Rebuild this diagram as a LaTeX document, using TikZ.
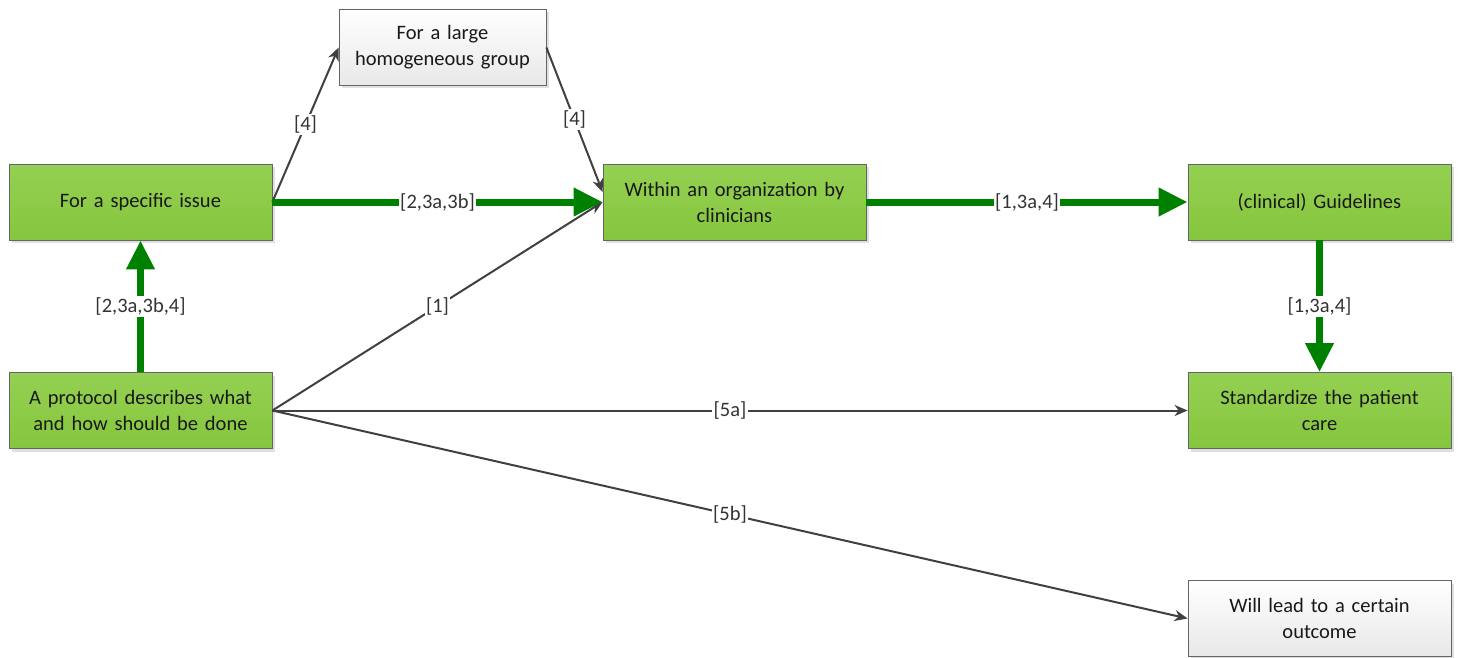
\documentclass[tikz,border=0pt]{standalone}
\usepackage{fontspec}
\setmainfont{Carlito}
\usetikzlibrary{arrows.meta,calc}
\definecolor{gtop}{RGB}{148,208,82}
\definecolor{gbot}{RGB}{134,198,62}
\definecolor{gline}{RGB}{0,128,0}
\definecolor{darkline}{RGB}{64,64,64}
\definecolor{boxborder}{RGB}{100,100,100}
\definecolor{txt}{RGB}{25,25,25}
\tikzset{
  every node/.style={font=\fontsize{20.5}{26}\selectfont, text=txt},
  base/.style={draw=boxborder, line width=0.8pt, minimum width=263pt, minimum height=76pt, text width=250pt, align=center, inner sep=0pt},
  greenbox/.style={base, top color=gtop, bottom color=gbot},
  whitebox/.style={base, top color=white, bottom color=black!9},
  shadowbox/.style={fill=black!12, draw=none, minimum width=263pt, minimum height=76pt, inner sep=0pt},
  thick green/.style={draw=gline, line width=7pt, -{Triangle[length=29pt,width=27pt]}},
  thin gray/.style={draw=darkline, line width=2pt, -{Stealth[length=13pt,width=11pt,inset=4pt]}},
  lab/.style={fill=white, inner sep=1.5pt, text=black!80},
}
\begin{document}
\begin{tikzpicture}[x=1pt,y=-1pt]
\useasboundingbox (0,0) rectangle (1459,658);
% shadows
\node[shadowbox] at (143.5,205) {};
\node[shadowbox] at (143.5,413.5) {};
\node[shadowbox, minimum width=207pt] at (445.5,50.5) {};
\node[shadowbox] at (737.5,205) {};
\node[shadowbox] at (1322.5,205) {};
\node[shadowbox] at (1322.5,413.5) {};
\node[shadowbox] at (1322.5,621.5) {};
% nodes
\node[greenbox] (A) at (140.5,202) {For a specific issue};
\node[greenbox] (B) at (140.5,410.5) {A protocol describes what\\and how should be done};
\node[whitebox, minimum width=207pt, text width=200pt] (C) at (442.5,47.5) {For a large\\homogeneous group};
\node[greenbox] (D) at (734.5,202) {Within an organization by\\clinicians};
\node[greenbox] (E) at (1319.5,202) {(clinical) Guidelines};
\node[greenbox] (F) at (1319.5,410.5) {Standardize the patient\\care};
\node[whitebox] (G) at (1319.5,618.5) {Will lead to a certain\\outcome};
% gray connectors
\draw[thin gray] (A.east) -- (C.west) node[lab, midway] {[4]};
\draw[thin gray] (C.east) -- ($(D.west)+(0,-10)$) node[lab, midway] {[4]};
\draw[thin gray] (B.east) -- (D.west) node[lab, midway] {[1]};
\draw[thin gray] (B.east) -- (F.west) node[lab, midway] {[5a]};
\draw[thin gray] (B.east) -- (G.west) node[lab, midway] {[5b]};
% green connectors
\draw[thick green] (B.north) -- (A.south) node[lab, midway] {[2,3a,3b,4]};
\draw[thick green] (A.east) -- (D.west) node[lab, midway] {[2,3a,3b]};
\draw[thick green] (D.east) -- (E.west) node[lab, midway] {[1,3a,4]};
\draw[thick green] (E.south) -- (F.north) node[lab, midway] {[1,3a,4]};
\end{tikzpicture}
\end{document}
